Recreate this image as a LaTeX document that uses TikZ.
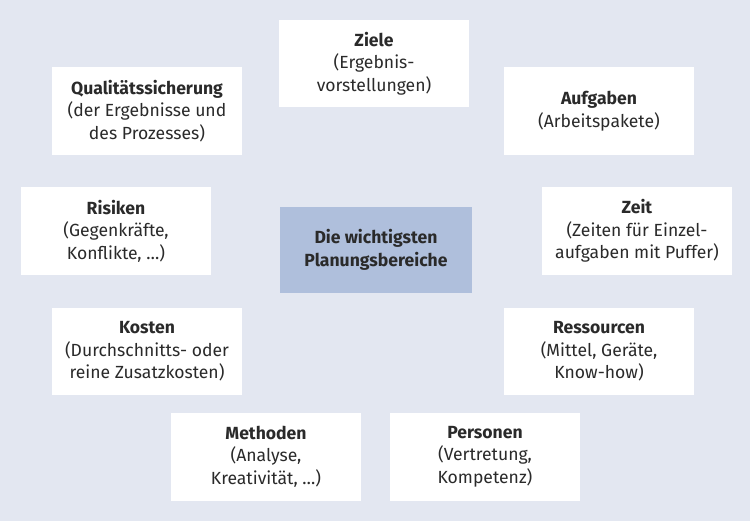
\documentclass[tikz,border=0pt]{standalone}
\usepackage{fontspec}
\setmainfont{Fira Sans}
\usepackage{xcolor}
\definecolor{pbgblue}{HTML}{E3E7F1}
\definecolor{pcenter}{HTML}{AFBFDC}
\definecolor{ptext}{HTML}{2A2A2A}
\usetikzlibrary{positioning}

\begin{document}
\begin{tikzpicture}[
    x=0.02cm, y=-0.02cm,
    areabox/.style={rectangle, fill=white, draw=none, text=ptext,
                    minimum width=3.82cm, minimum height=1.76cm, align=center,
                    inner sep=2pt, font=\fontsize{10}{12.8}\selectfont},
    centerbox/.style={areabox, fill=pcenter, minimum width=3.84cm,
                    minimum height=1.72cm, font=\fontsize{10}{12.8}\selectfont\bfseries}
  ]
    % background
    \fill[pbgblue] (0,0) rectangle (750,521);

    % centre
    \node[centerbox] (core) at (376,250) {Die wichtigsten\\Planungsbereiche};

    % ring of planning areas
    \node[areabox] (ziele)    at (374,63.5)  {\textbf{Ziele}\\(Ergebnis-\\vorstellungen)};
    \node[areabox] (aufgaben) at (599,111)   {\textbf{Aufgaben}\\(Arbeitspakete)};
    \node[areabox] (zeit)     at (637,231)   {\textbf{Zeit}\\(Zeiten für Einzel-\\aufgaben mit Puffer)};
    \node[areabox] (ressourcen) at (599,351.5) {\textbf{Ressourcen}\\(Mittel, Geräte,\\Know-how)};
    \node[areabox] (personen) at (485,456.5) {\textbf{Personen}\\(Vertretung,\\Kompetenz)};
    \node[areabox] (methoden) at (266,456.5) {\textbf{Methoden}\\(Analyse,\\Kreativität, …)};
    \node[areabox] (kosten)   at (147,351.5) {\textbf{Kosten}\\(Durchschnitts- oder\\reine Zusatzkosten)};
    \node[areabox] (risiken)  at (116,231)   {\textbf{Risiken}\\(Gegenkräfte,\\Konflikte, …)};
    \node[areabox] (quali)    at (147,111)   {\textbf{Qualitätssicherung}\\(der Ergebnisse und\\des Prozesses)};
  \end{tikzpicture}
\end{document}
